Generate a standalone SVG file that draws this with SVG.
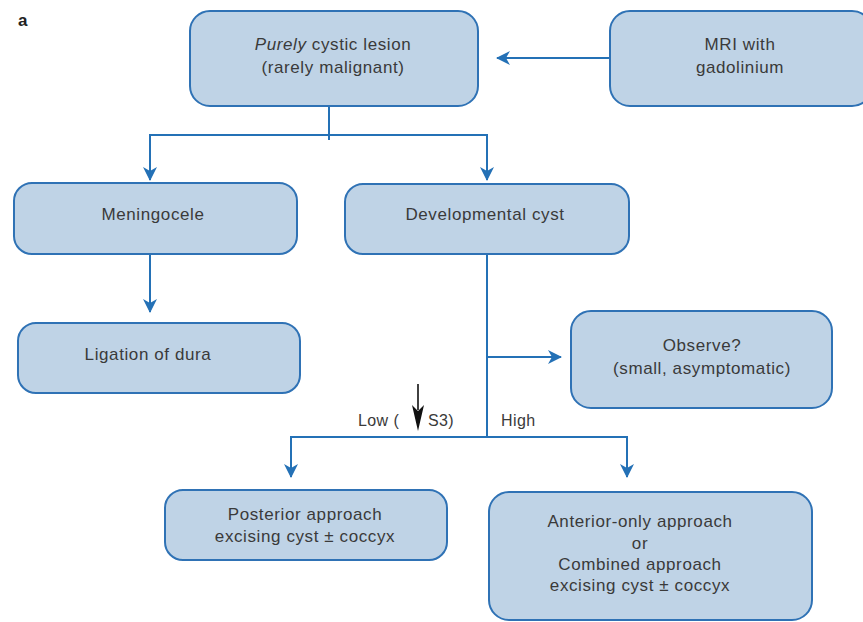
<svg xmlns="http://www.w3.org/2000/svg" width="863" height="622" viewBox="0 0 863 622">
<style>
.box{fill:#bfd3e6;stroke:#2f72b5;stroke-width:2}
.t{font-family:"Liberation Sans",Arial,sans-serif;font-size:17px;letter-spacing:0.6px;fill:#3a3a3a;text-anchor:middle}
.l{font-family:"Liberation Sans",Arial,sans-serif;font-size:16px;letter-spacing:0.4px;fill:#3a3a3a}
.c{fill:none;stroke:#2471b6;stroke-width:2}
</style>
<defs>
<marker id="ah" markerWidth="14" markerHeight="14" viewBox="0 0 14 14" refX="13" refY="7" orient="auto" markerUnits="userSpaceOnUse">
<path d="M0,0 L14,7 L0,14 L4,7 Z" fill="#2471b6"/>
</marker>
</defs>
<rect width="863" height="622" fill="#fff"/>
<text x="18" y="26" style="font-family:'Liberation Sans',Arial,sans-serif;font-size:17px;font-weight:bold;fill:#222">a</text>
<g id="connectors">
<line class="c" x1="610" y1="58" x2="497" y2="58" marker-end="url(#ah)"/>
<polyline class="c" points="329,106 329,140"/>
<polyline class="c" points="150,180 150,135 487,135 487,180" marker-end="url(#ah)"/>
<line class="c" x1="150" y1="136" x2="150" y2="180" marker-end="url(#ah)"/>
<line class="c" x1="150" y1="254" x2="150" y2="312" marker-end="url(#ah)"/>
<line class="c" x1="487" y1="254" x2="487" y2="437"/>
<line class="c" x1="487" y1="357" x2="561" y2="357" marker-end="url(#ah)"/>
<polyline class="c" points="291,477 291,437 627,437 627,477" marker-end="url(#ah)"/>
<line class="c" x1="291" y1="438" x2="291" y2="477" marker-end="url(#ah)"/>
</g>
<g id="n1"><rect class="box" x="190" y="11" width="288" height="95" rx="20"/>
<text class="t" x="333" y="50"><tspan font-style="italic">Purely</tspan> cystic lesion</text>
<text class="t" x="333" y="73">(rarely malignant)</text></g>
<g id="n2"><rect class="box" x="610" y="11" width="262" height="95" rx="20"/>
<text class="t" x="740" y="50">MRI with</text>
<text class="t" x="740" y="73">gadolinium</text></g>
<g id="n3"><rect class="box" x="14" y="183" width="283" height="71" rx="18"/>
<text class="t" x="153" y="220">Meningocele</text></g>
<g id="n4"><rect class="box" x="345" y="184" width="284" height="70" rx="18"/>
<text class="t" x="485" y="220">Developmental cyst</text></g>
<g id="n5"><rect class="box" x="18" y="323" width="282" height="70" rx="18"/>
<text class="t" x="148" y="360">Ligation of dura</text></g>
<g id="n6"><rect class="box" x="571" y="311" width="261" height="97" rx="20"/>
<text class="t" x="702" y="351">Observe?</text>
<text class="t" x="702" y="374">(small, asymptomatic)</text></g>
<g id="n7"><rect class="box" x="165" y="490" width="282" height="70" rx="18"/>
<text class="t" x="305" y="520">Posterior approach</text>
<text class="t" x="305" y="542">excising cyst ± coccyx</text></g>
<g id="n8"><rect class="box" x="489" y="492" width="323" height="128" rx="20"/>
<text class="t" x="640" y="527">Anterior-only approach</text>
<text class="t" x="640" y="549">or</text>
<text class="t" x="640" y="570">Combined approach</text>
<text class="t" x="640" y="591">excising cyst ± coccyx</text></g>
<g id="labels">
<text class="l" x="358" y="426">Low (</text>
<text class="l" x="428" y="426">S3)</text>
<line x1="418" y1="384" x2="418" y2="410" stroke="#111" stroke-width="1.6"/>
<path d="M412,405 L418,431 L424,405 L418,411 Z" fill="#111"/>
<text class="l" x="501" y="426">High</text>
</g>
</svg>
